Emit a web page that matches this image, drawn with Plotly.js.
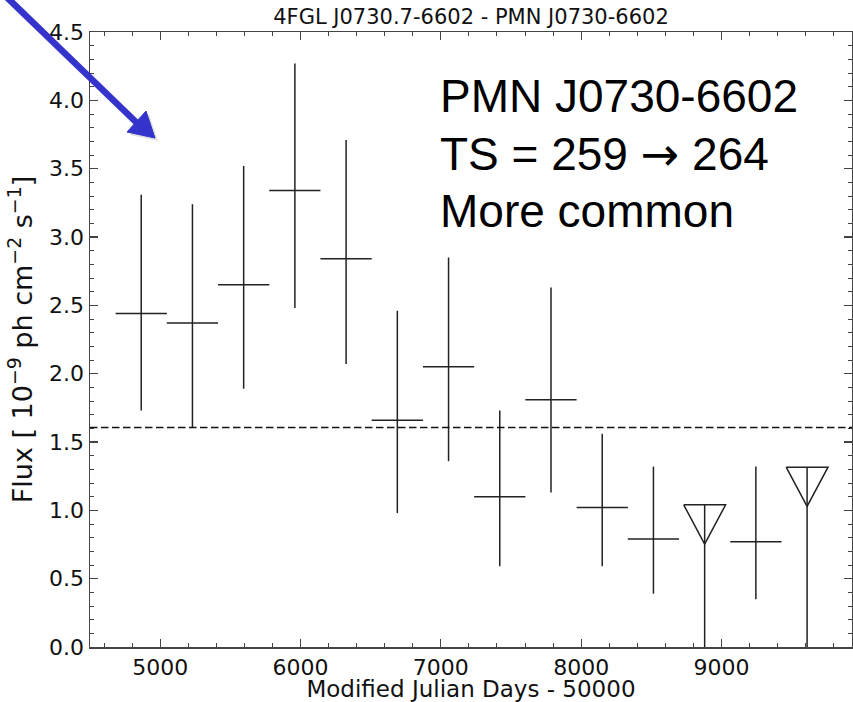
<!DOCTYPE html>
<html>
<head>
<meta charset="utf-8">
<script src="https://cdn.plot.ly/plotly-3.0.1.min.js"></script>
<style>html,body{margin:0;padding:0;background:#fff;}#chart{width:853px;height:702px;}</style>
</head>
<body>
<div id="chart"></div>
<script>
// ---- data ----
const detTime = [4865, 5230, 5595, 5960, 6325, 6690, 7055, 7420, 7785, 8150, 8515, 9245];
const detFlux = [2.44, 2.37, 2.65, 3.34, 2.84, 1.66, 2.05, 1.10, 1.81, 1.02, 0.79, 0.77];
const detHigh = [3.31, 3.24, 3.52, 4.27, 3.71, 2.46, 2.85, 1.73, 2.63, 1.56, 1.32, 1.32];
const detLow  = [1.73, 1.61, 1.89, 2.48, 2.07, 0.98, 1.36, 0.59, 1.13, 0.59, 0.39, 0.35];
const binHalfWidth = 182.6;
const ulTime = [8880, 9610];
const ulFlux = [1.04, 1.316];
const meanFlux = 1.606;
const xTickVals = [5000, 6000, 7000, 8000, 9000];
const noteLines = ['PMN J0730-6602', 'TS = 259 <span style="font-family:DejaVu Sans">→</span> 264', 'More common'];

// ---- style constants ----
const ink = '#222';
const lw = 1.5;
const triHalfW = 149;   // days
const triH = 0.287;     // flux units

const errPlus = detHigh.map((h, i) => h - detFlux[i]);
const errMinus = detLow.map((l, i) => detFlux[i] - l);

const triX = [], triY = [];
ulTime.forEach((t, i) => {
  const u = ulFlux[i];
  triX.push(t - triHalfW, t + triHalfW, t, t - triHalfW, null);
  triY.push(u, u, u - triH, u, null);
});

const traces = [
  {
    type: 'scatter', mode: 'markers', x: detTime, y: detFlux,
    marker: {size: 1, color: 'rgba(0,0,0,0)'},
    error_x: {type: 'constant', value: binHalfWidth, width: 0, thickness: lw, color: ink},
    error_y: {type: 'data', symmetric: false, array: errPlus, arrayminus: errMinus, width: 0, thickness: lw, color: ink},
    hoverinfo: 'skip', showlegend: false
  },
  {
    type: 'scatter', mode: 'markers', x: ulTime, y: ulFlux,
    marker: {size: 1, color: 'rgba(0,0,0,0)'},
    error_y: {type: 'data', symmetric: false, array: ulFlux.map(() => 0), arrayminus: ulFlux, width: 0, thickness: lw, color: ink},
    hoverinfo: 'skip', showlegend: false
  },
  {
    type: 'scatter', mode: 'lines', x: triX, y: triY,
    line: {color: ink, width: lw}, hoverinfo: 'skip', showlegend: false
  }
];

const axisFont = {family: 'DejaVu Sans', size: 22, color: '#111'};
const common = {
  showline: true, linecolor: '#444', linewidth: 1.5, mirror: 'allticks',
  ticks: 'inside', ticklen: 8, tickwidth: 1.3, tickcolor: '#444',
  showgrid: false, zeroline: false, tickfont: axisFont
};

// decorative blue pointer arrow, placed in figure pixels -> paper coords
const W = 762, H = 615, L = 90, T = 32;
const px = X => (X - L) / W;
const py = Y => (T + H - Y) / H;
const headPath = 'M' + px(155) + ',' + py(138) + ' L' + px(127) + ',' + py(132) +
  ' L' + px(146) + ',' + py(111) + ' Z';
const shadowPath = 'M' + px(158) + ',' + py(141) + ' L' + px(130) + ',' + py(135) +
  ' L' + px(149) + ',' + py(114) + ' Z';

const noteY = [96, 154, 211];
const noteAnns = noteLines.map((t, i) => ({
  xref: 'paper', yref: 'paper', x: px(438), y: py(noteY[i]),
  xanchor: 'left', yanchor: 'middle', align: 'left', showarrow: false,
  text: t, font: {family: 'Liberation Sans, Arial', size: 46, color: '#000'}
}));

const layout = {
  width: 853, height: 702,
  margin: {l: 90, r: 1, t: 32, b: 55},
  paper_bgcolor: '#fff', plot_bgcolor: '#fff',
  title: {
    text: '4FGL J0730.7-6602 - PMN J0730-6602',
    font: {family: 'DejaVu Sans', size: 21, color: '#111'},
    x: 0.5, xref: 'paper', y: 1 - 17 / 702, yref: 'container', yanchor: 'middle'
  },
  xaxis: Object.assign({}, common, {
    range: [4500, 9930], tickvals: xTickVals, ticktext: xTickVals.map(String),
    minor: {dtick: 200, tick0: 0, ticks: 'inside', ticklen: 4, tickwidth: 1, tickcolor: '#444', showgrid: false},
    title: {text: 'Modified Julian Days - 50000', font: {family: 'DejaVu Sans', size: 23, color: '#111'}, standoff: 12}
  }),
  yaxis: Object.assign({}, common, {
    range: [0, 4.5], dtick: 0.5, tick0: 0, tickformat: '.1f',
    minor: {dtick: 0.1, tick0: 0, ticks: 'inside', ticklen: 4, tickwidth: 1, tickcolor: '#444', showgrid: false},
    title: {text: 'Flux [ 10<sup>−9</sup> ph cm<sup>−2</sup> s<sup>−1</sup>]', font: {family: 'DejaVu Sans', size: 27, color: '#111'}, standoff: 8}
  }),
  shapes: [
    {
      type: 'line', xref: 'paper', x0: 0, x1: 1, yref: 'y', y0: meanFlux, y1: meanFlux,
      line: {color: '#111', width: 1.6, dash: '7.5px,3.5px'}
    },
    {
      type: 'line', xref: 'paper', yref: 'paper', layer: 'above',
      x0: px(-6), y0: py(-15), x1: px(141), y1: py(127),
      line: {color: 'rgba(0,0,0,0.12)', width: 7}
    },
    {
      type: 'path', xref: 'paper', yref: 'paper', layer: 'above',
      path: shadowPath, fillcolor: 'rgba(0,0,0,0.12)', line: {width: 0}
    },
    {
      type: 'line', xref: 'paper', yref: 'paper', layer: 'above',
      x0: px(-9), y0: py(-18), x1: px(138), y1: py(124),
      line: {color: '#3434cc', width: 6.5}
    },
    {
      type: 'path', xref: 'paper', yref: 'paper', layer: 'above',
      path: headPath, fillcolor: '#3434cc', line: {color: '#3434cc', width: 1}
    }
  ],
  annotations: noteAnns
};

Plotly.newPlot('chart', traces, layout, {displayModeBar: false, staticPlot: true});
</script>
</body>
</html>
